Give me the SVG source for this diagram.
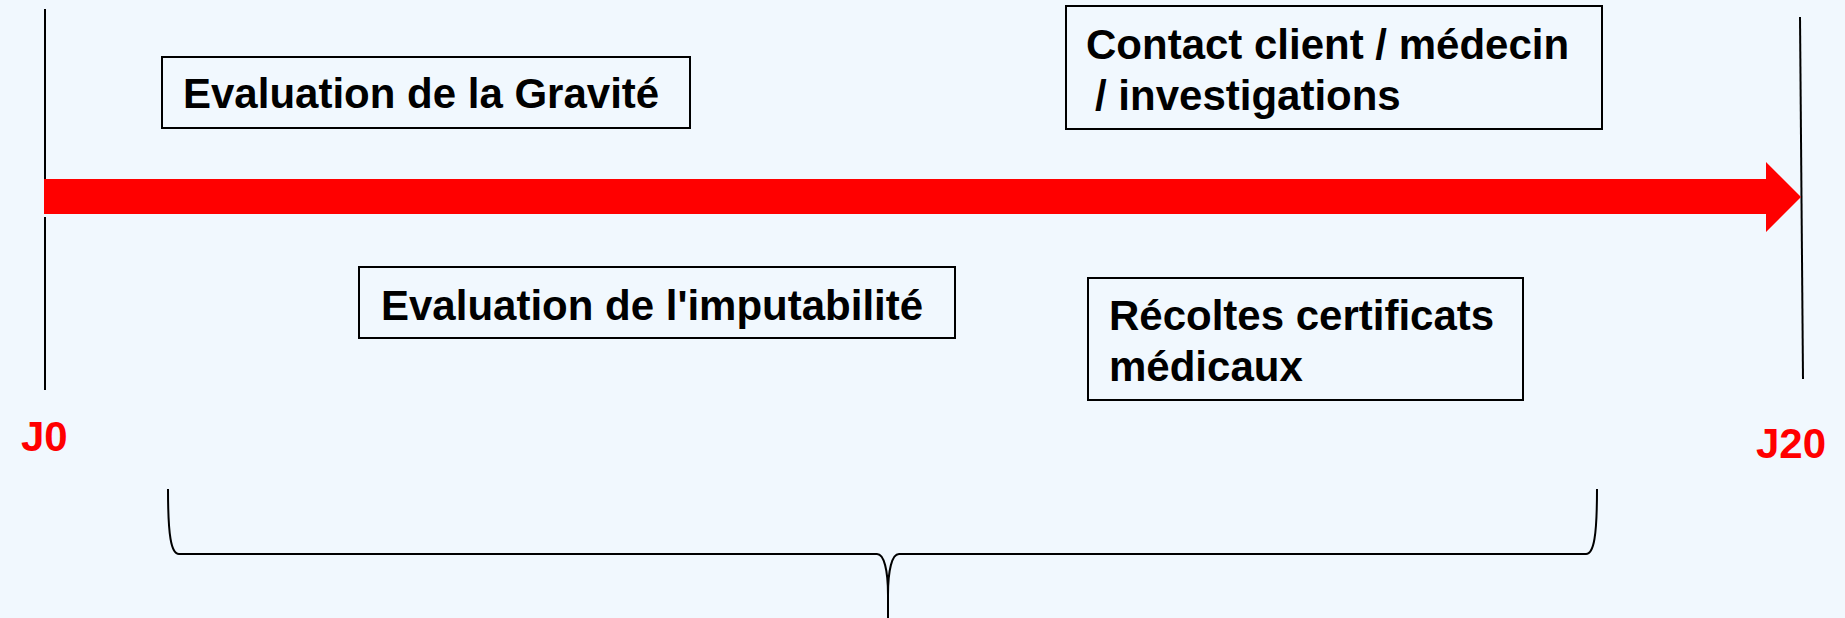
<svg xmlns="http://www.w3.org/2000/svg" width="1845" height="618" viewBox="0 0 1845 618">
<style>
.box{fill:none;stroke:#000;stroke-width:2}
.lbl{font-family:"Liberation Sans",Arial,sans-serif;font-weight:bold;font-size:42px;fill:#000}
.day{font-family:"Liberation Sans",Arial,sans-serif;font-weight:bold;font-size:42px;fill:#FF0000}
.ln{stroke:#000;stroke-width:2;fill:none}
</style>
<rect x="0" y="0" width="1845" height="618" fill="#F1F8FE"/>
<g id="connectors">
<line class="ln" x1="45" y1="9" x2="45" y2="182"/>
<line class="ln" x1="45" y1="217" x2="45" y2="390"/>
<line class="ln" x1="1800" y1="17" x2="1803" y2="379"/>
<polygon fill="#FF0000" points="44,179 1766,179 1766,162 1801,197 1766,232 1766,214 44,214"/>
<path class="ln" d="M168,489 C168,535 171,554 179,554 L877,554 C884,554 888,570 888,595 L888,618 M888,595 C888,570 892,554 899,554 L1586,554 C1594,554 1597,535 1597,489"/>
</g>
<g id="j0"><text class="day" x="21" y="451">J0</text></g>
<g id="j20"><text class="day" x="1756" y="458">J20</text></g>
<g id="gravite">
<rect class="box" x="162" y="57" width="528" height="71"/>
<text class="lbl" x="183" y="108">Evaluation de la Gravité</text>
</g>
<g id="contact">
<rect class="box" x="1066" y="6" width="536" height="123"/>
<text class="lbl" x="1086" y="59">Contact client / médecin</text>
<text class="lbl" x="1095" y="110">/ investigations</text>
</g>
<g id="imputabilite">
<rect class="box" x="359" y="267" width="596" height="71"/>
<text class="lbl" x="381" y="320">Evaluation de l'imputabilité</text>
</g>
<g id="recoltes">
<rect class="box" x="1088" y="278" width="435" height="122"/>
<text class="lbl" x="1109" y="330">Récoltes certificats</text>
<text class="lbl" x="1109" y="381">médicaux</text>
</g>
</svg>
